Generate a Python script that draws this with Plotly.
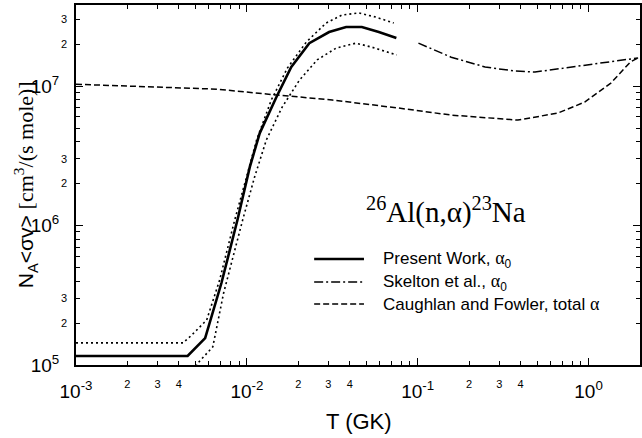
import math
import plotly.graph_objects as go

# ---- data ----
pw_T = [1e-3, 4.5e-3, 5.7e-3, 7.1e-3, 8.8e-3, 1.04e-2, 1.19e-2, 1.49e-2, 1.82e-2, 2.32e-2, 3.03e-2, 3.81e-2, 4.71e-2, 5.92e-2, 7.5e-2]
pw_rate = [1.16e5, 1.16e5, 1.56e5, 3.87e5, 1.09e6, 2.62e6, 4.6e6, 8.34e6, 1.37e7, 2.03e7, 2.44e7, 2.65e7, 2.65e7, 2.44e7, 2.21e7]

up_T = [1e-3, 4.23e-3, 4.76e-3, 5.82e-3, 6.93e-3, 8.48e-3, 9.96e-3, 1.14e-2, 1.39e-2, 1.73e-2, 2.23e-2, 2.91e-2, 3.61e-2, 4.53e-2, 5.69e-2, 7.24e-2]
up_rate = [1.44e5, 1.44e5, 1.64e5, 2.10e5, 4.07e5, 1.09e6, 2.23e6, 4.10e6, 7.94e6, 1.35e7, 2.07e7, 2.83e7, 3.23e7, 3.34e7, 3.12e7, 2.83e7]

lo_T = [4.63e-3, 5.16e-3, 6.32e-3, 7.31e-3, 9.44e-3, 1.11e-2, 1.30e-2, 1.61e-2, 2.03e-2, 2.58e-2, 3.33e-2, 4.35e-2, 5.39e-2, 7.53e-2]
lo_rate = [7.8e4, 1.03e5, 1.35e5, 3.28e5, 1.09e6, 2.23e6, 4.10e6, 7.07e6, 1.10e7, 1.54e7, 1.87e7, 2.03e7, 1.90e7, 1.67e7]

sk_T = [0.101, 0.157, 0.248, 0.371, 0.486, 0.755, 1.17, 1.95]
sk_rate = [2.03e7, 1.61e7, 1.37e7, 1.28e7, 1.26e7, 1.35e7, 1.46e7, 1.59e7]

cf_T = [1e-3, 6.67e-3, 1.30e-2, 3.16e-2, 7.74e-2, 0.157, 0.386, 0.661, 0.949, 1.35, 1.76, 1.95]
cf_rate = [1.03e7, 9.5e6, 8.77e6, 7.94e6, 6.95e6, 6.19e6, 5.70e6, 6.40e6, 7.67e6, 1.05e7, 1.49e7, 1.59e7]

legend_labels = [
    "Present Work, <span style='font-family:Liberation Serif;font-size:18px'>α</span><sub>0</sub>",
    "Skelton et al., <span style='font-family:Liberation Serif;font-size:18px'>α</span><sub>0</sub>",
    "Caughlan and Fowler, total <span style='font-family:Liberation Serif;font-size:18px'>α</span>",
]

x_decades = [-3, -2, -1, 0]
x_labeled_mult = [2, 3, 4]
y_decades = [5, 6, 7]
y_labeled_mult = [2, 3]
X_MAX = 2.0
Y_MIN, Y_MAX = 1e5, 10 ** 7.581

SANS = "Liberation Sans"
SERIF = "Liberation Serif"

# tick construction
x_major = [10.0 ** d for d in x_decades]
x_major_text = ["10<sup>%d</sup>" % d for d in x_decades]
x_minor_lab, x_minor_lab_text, x_minor_all = [], [], []
for d in x_decades:
    for m in range(2, 10):
        v = m * 10.0 ** d
        if v > X_MAX * 1.0001:
            continue
        x_minor_all.append(v)
        if m in x_labeled_mult:
            x_minor_lab.append(v)
            x_minor_lab_text.append(str(m))

y_major = [10.0 ** d for d in y_decades]
y_major_text = ["10<sup>%d</sup>" % d for d in y_decades]
y_minor_lab, y_minor_lab_text, y_minor_all = [], [], []
for d in y_decades:
    for m in range(2, 10):
        v = m * 10.0 ** d
        y_minor_all.append(v)
        if m in y_labeled_mult:
            y_minor_lab.append(v)
            y_minor_lab_text.append(str(m))

fig = go.Figure()
fig.add_trace(go.Scatter(x=up_T, y=up_rate, mode="lines",
                         line=dict(color="black", width=1.6, dash="2px,3px")))
fig.add_trace(go.Scatter(x=lo_T, y=lo_rate, mode="lines",
                         line=dict(color="black", width=1.6, dash="2px,3px")))
fig.add_trace(go.Scatter(x=pw_T, y=pw_rate, mode="lines",
                         line=dict(color="black", width=2.6)))
fig.add_trace(go.Scatter(x=sk_T, y=sk_rate, mode="lines",
                         line=dict(color="black", width=1.5, dash="9px,3px,2px,3px")))
fig.add_trace(go.Scatter(x=cf_T, y=cf_rate, mode="lines",
                         line=dict(color="black", width=1.5, dash="6px,3px")))
# empty trace that activates the overlay axes carrying the small minor labels
fig.add_trace(go.Scatter(x=[], y=[], xaxis="x2", yaxis="y2", hoverinfo="skip"))

xr = [math.log10(1e-3), math.log10(X_MAX)]
yr = [math.log10(Y_MIN), math.log10(Y_MAX)]

axis_common = dict(
    showgrid=False, zeroline=False, showline=True, linecolor="black", linewidth=2,
    mirror="ticks", ticks="inside", ticklen=7, tickwidth=1, tickcolor="black",
    tickmode="array", tickfont=dict(family=SANS, size=19, color="black"),
)

overlay_common = dict(
    showgrid=False, zeroline=False, showline=False, ticks="", tickmode="array",
    tickfont=dict(family=SANS, size=11, color="black"),
)

fig.update_layout(
    xaxis=dict(type="log", range=xr, tickvals=x_major, ticktext=x_major_text,
               ticklabelstandoff=8,
               minor=dict(tickmode="array", tickvals=x_minor_all, ticks="inside", ticklen=4,
                          tickcolor="black", tickwidth=1),
               **axis_common),
    yaxis=dict(type="log", range=yr, tickvals=y_major, ticktext=y_major_text,
               ticklabelstandoff=11,
               minor=dict(tickmode="array", tickvals=y_minor_all, ticks="inside", ticklen=4,
                          tickcolor="black", tickwidth=1),
               **axis_common),
    xaxis2=dict(type="log", range=xr, overlaying="x", anchor="y2", side="bottom",
                tickvals=x_minor_lab, ticktext=x_minor_lab_text, ticklabelstandoff=11,
                **overlay_common),
    yaxis2=dict(type="log", range=yr, overlaying="y", anchor="x2", side="left",
                tickvals=y_minor_lab, ticktext=y_minor_lab_text, ticklabelstandoff=8,
                **overlay_common),
)

def px_x(p):
    return (p - 76) / 566

def px_y(p):
    return (365 - p) / 360

annotations = [
    dict(text="<sup>26</sup>Al(n,α)<sup>23</sup>Na", x=px_x(447), y=px_y(210),
         xref="paper", yref="paper", xanchor="center", yanchor="middle",
         showarrow=False, font=dict(family=SERIF, size=29, color="black")),
    dict(text="T (GK)", x=px_x(360), y=px_y(422), xref="paper", yref="paper",
         xanchor="center", yanchor="middle", showarrow=False,
         font=dict(family=SANS, size=22, color="black")),
    dict(text="N<sub>A</sub>&lt;σv&gt; <span style='font-family:Liberation Serif;font-size:22px'>[cm<sup>3</sup>/(s mole)]</span>",
         x=px_x(25), y=px_y(185), xref="paper", yref="paper", xanchor="center", yanchor="middle",
         showarrow=False, textangle=-90, font=dict(family=SANS, size=21, color="black")),
]

leg_y = [px_y(259), px_y(282), px_y(304)]
leg_dash = ["solid", "9px,3px,2px,3px", "6px,3px"]
leg_w = [2.6, 1.5, 1.5]
shapes = []
for lbl, yy, ds, w in zip(legend_labels, leg_y, leg_dash, leg_w):
    shapes.append(dict(type="line", xref="paper", yref="paper",
                       x0=px_x(315), x1=px_x(365), y0=yy, y1=yy,
                       line=dict(color="black", width=w, dash=ds)))
    annotations.append(dict(text=lbl, x=px_x(382), y=yy, xref="paper", yref="paper",
                            xanchor="left", yanchor="middle", showarrow=False,
                            font=dict(family=SANS, size=17, color="black")))

fig.update_layout(
    width=642, height=438, margin=dict(l=76, r=0, t=5, b=73),
    paper_bgcolor="white", plot_bgcolor="white", showlegend=False,
    annotations=annotations, shapes=shapes,
)

fig.write_html("out.html")
